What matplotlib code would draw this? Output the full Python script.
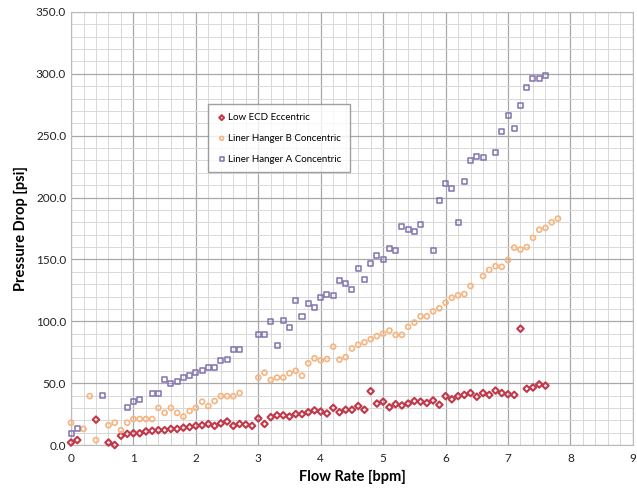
import matplotlib.pyplot as plt
from matplotlib.ticker import MultipleLocator, FormatStrFormatter

plt.rcParams['font.family'] = ['Lato', 'DejaVu Sans']

# Low ECD Eccentric
x_low = [0.0, 0.1, 0.4, 0.6, 0.7, 0.8, 0.9, 1.0, 1.1, 1.2, 1.3, 1.4, 1.5, 1.6, 1.7,
         1.8, 1.9, 2.0, 2.1, 2.2, 2.3, 2.4, 2.5, 2.6, 2.7, 2.8, 2.9, 3.0, 3.1, 3.2,
         3.3, 3.4, 3.5, 3.6, 3.7, 3.8, 3.9, 4.0, 4.1, 4.2, 4.3, 4.4, 4.5, 4.6, 4.7,
         4.8, 4.9, 5.0, 5.1, 5.2, 5.3, 5.4, 5.5, 5.6, 5.7, 5.8, 5.9, 6.0, 6.1, 6.2,
         6.3, 6.4, 6.5, 6.6, 6.7, 6.8, 6.9, 7.0, 7.1, 7.2, 7.3, 7.4, 7.5, 7.6]
y_low = [2, 4, 20.5, 2, 0, 7.5, 9, 9.5, 9.5, 11, 11.5, 12, 12, 13, 13,
         14, 14.5, 15.5, 16, 17, 15.5, 17.5, 19, 15.5, 17, 16.5, 15.5, 21.5, 17, 22.5,
         24, 24, 23, 25, 25, 26.5, 28, 27, 25.5, 30, 26.5, 28.5, 28.5, 31.5, 28.5,
         43.5, 33.5, 35, 30.5, 33, 32, 33.5, 35.5, 35, 34, 36, 32.5, 39.5, 37, 39.5,
         40.5, 42, 39, 42, 40.5, 44, 42, 41, 40.5, 94, 45.5, 46.5, 49, 48]

# Liner Hanger B Concentric
x_b = [0.0, 0.2, 0.3, 0.4, 0.6, 0.7, 0.8, 0.9, 1.0, 1.1, 1.2, 1.3, 1.4, 1.5, 1.6,
       1.7, 1.8, 1.9, 2.0, 2.1, 2.2, 2.3, 2.4, 2.5, 2.6, 2.7, 3.0, 3.1, 3.2, 3.3,
       3.4, 3.5, 3.6, 3.7, 3.8, 3.9, 4.0, 4.1, 4.2, 4.3, 4.4, 4.5, 4.6, 4.7, 4.8,
       4.9, 5.0, 5.1, 5.2, 5.3, 5.4, 5.5, 5.6, 5.7, 5.8, 5.9, 6.0, 6.1, 6.2, 6.3,
       6.4, 6.6, 6.7, 6.8, 6.9, 7.0, 7.1, 7.2, 7.3, 7.4, 7.5, 7.6, 7.7, 7.8]
y_b = [18, 13, 39.5, 4, 16, 18, 12, 18, 21, 21, 21, 21, 30, 26, 30,
       26, 23, 27.5, 30, 35, 31.5, 35.5, 39.5, 39.5, 39.5, 42, 54.5, 58.5, 52.5, 54.5,
       54.5, 58, 60, 56, 66, 70, 68.5, 69.5, 79.5, 69, 71, 78, 81, 83, 85.5,
       88, 90, 92.5, 89, 89, 95.5, 99, 104, 104, 108, 110.5, 115, 119, 121, 122,
       128.5, 136.5, 141.5, 144.5, 144, 149.5, 159.5, 158, 160, 167.5, 174, 175.5, 180, 183]

# Liner Hanger A Concentric
x_a = [0.0, 0.1, 0.5, 0.9, 1.0, 1.1, 1.3, 1.4, 1.5, 1.6, 1.7, 1.8, 1.9, 2.0, 2.1,
       2.2, 2.3, 2.4, 2.5, 2.6, 2.7, 3.0, 3.1, 3.2, 3.3, 3.4, 3.5, 3.6, 3.7, 3.8,
       3.9, 4.0, 4.1, 4.2, 4.3, 4.4, 4.5, 4.6, 4.7, 4.8, 4.9, 5.0, 5.1, 5.2, 5.3,
       5.4, 5.5, 5.6, 5.8, 5.9, 6.0, 6.1, 6.2, 6.3, 6.4, 6.5, 6.6, 6.8, 6.9, 7.0,
       7.1, 7.2, 7.3, 7.4, 7.5, 7.6]
y_a = [9, 13.5, 40, 30, 35, 37, 42, 42, 53, 50, 51.5, 54.5, 56.5, 58.5, 60.5,
       63, 62.5, 68, 69, 77.5, 77.5, 89.5, 89.5, 99.5, 80.5, 101, 95, 116.5, 104, 114.5,
       111, 119, 122, 120.5, 133, 130.5, 126, 143, 134, 147, 153, 150, 159, 157, 176.5,
       174.5, 172.5, 178.5, 157.5, 198, 211.5, 207.5, 180, 213, 230, 233, 232, 236.5, 253, 266.5,
       255.5, 274.5, 289, 296.5, 296.5, 298.5]

fig = plt.figure(figsize=(6.37, 4.98), dpi=100)
ax = fig.add_axes([0.1115, 0.1064, 0.882, 0.8696])

ax.scatter(x_low, y_low, marker='D', s=11, facecolors='none', edgecolors='#C0394B',
           linewidths=1.5, label='Low ECD Eccentric', zorder=3, clip_on=False)
ax.scatter(x_b, y_b, marker='o', s=13, facecolors='none', edgecolors='#F6B47E',
           linewidths=1.2, label='Liner Hanger B Concentric', zorder=3, clip_on=False)
ax.scatter(x_a, y_a, marker='s', s=13, facecolors='none', edgecolors='#8172AE',
           linewidths=1.1, label='Liner Hanger A Concentric', zorder=3, clip_on=False)

ax.set_xlim(0, 9)
ax.set_ylim(0, 350)
ax.xaxis.set_major_locator(MultipleLocator(1))
ax.xaxis.set_minor_locator(MultipleLocator(0.2))
ax.yaxis.set_major_locator(MultipleLocator(50))
ax.yaxis.set_minor_locator(MultipleLocator(10))
ax.yaxis.set_major_formatter(FormatStrFormatter('%.1f'))

ax.grid(which='major', color='#A8A8A8', linewidth=0.9)
ax.grid(which='minor', color='#D8D8D8', linewidth=0.7)
ax.set_axisbelow(True)
for s in ax.spines.values():
    s.set_color('#BBBBBB')
ax.tick_params(which='both', length=0, labelsize=8.5, colors='#222222')
ax.tick_params(axis='x', pad=6)

ax.set_xlabel('Flow Rate [bpm]', fontsize=10.5, fontweight='bold', labelpad=4)
ax.set_ylabel('Pressure Drop [psi]', fontsize=10.5, fontweight='bold', labelpad=6)

leg = ax.legend(loc='upper left', bbox_to_anchor=(0.319, 0.80), bbox_transform=fig.transFigure,
                fontsize=7, frameon=True, fancybox=False, labelspacing=1.2,
                handletextpad=0.2, handlelength=1.0, borderpad=0.9, markerscale=0.75)
leg.get_frame().set_edgecolor('#888888')
leg.get_frame().set_linewidth(1.0)

fig.savefig('out.png', dpi=100)
